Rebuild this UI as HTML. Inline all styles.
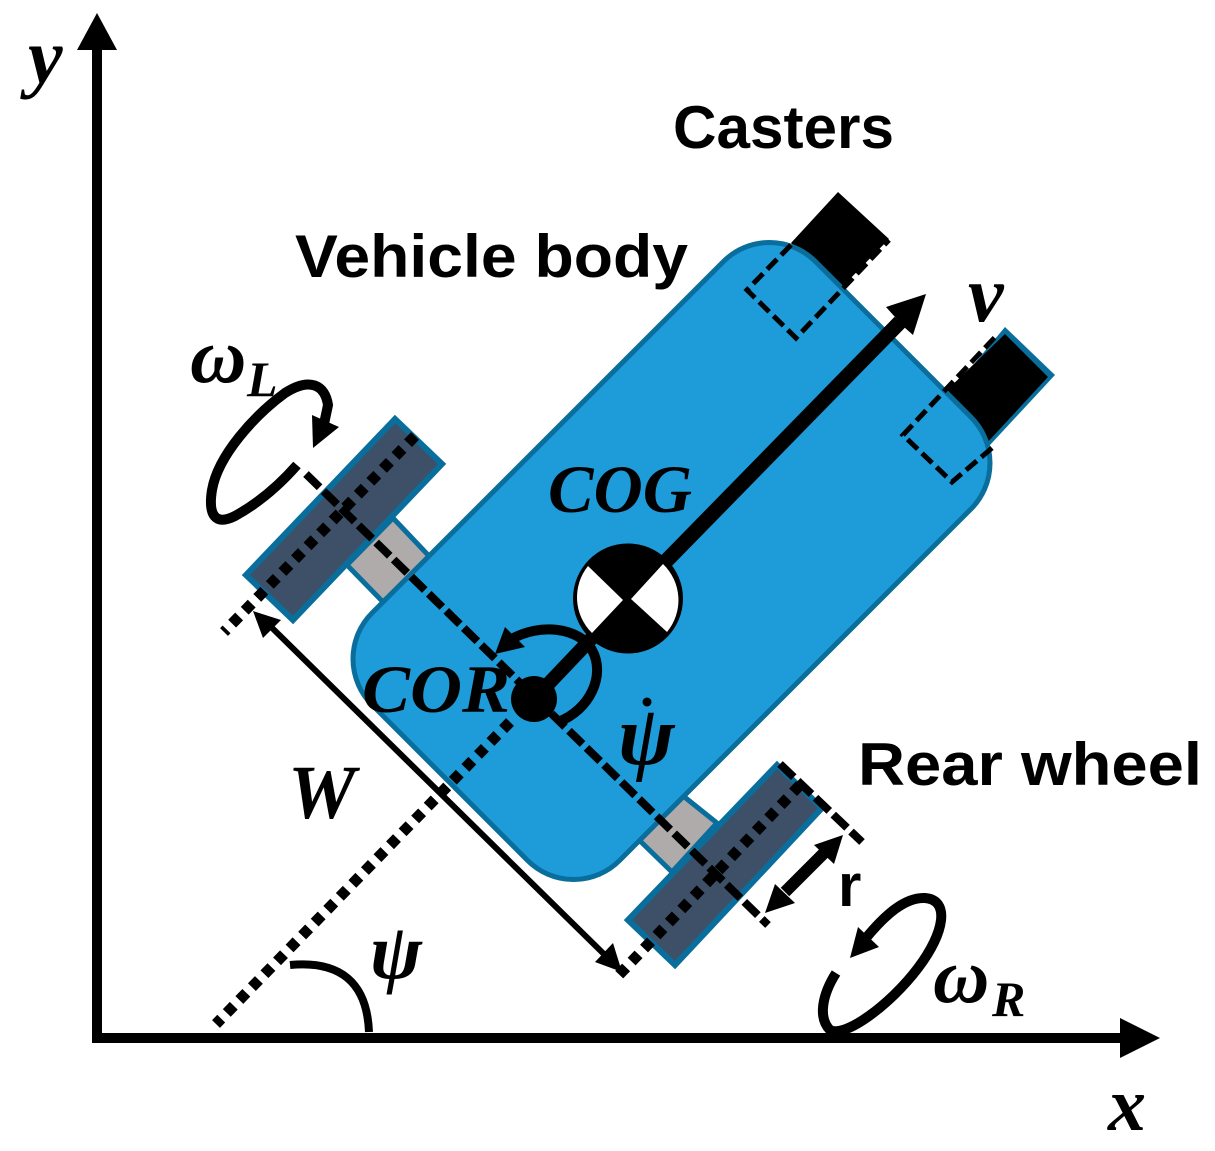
<!DOCTYPE html>
<html><head><meta charset="utf-8"><style>html,body{margin:0;padding:0;background:#fff}svg{display:block}
.b{font-family:"Liberation Sans",sans-serif;font-weight:bold;font-size:60px;fill:#000}
.m{font-family:"Liberation Serif",serif;font-style:italic;font-weight:bold;fill:#000}
</style></head><body>
<svg width="1215" height="1151" viewBox="0 0 1215 1151" xmlns="http://www.w3.org/2000/svg">
<rect width="1215" height="1151" fill="#fff"/>
<!-- casters -->
<polygon points="838,192 889,239 842,287 791,243" fill="#000"/>
<polygon points="1005,327 1055,375 990,445 948,395" fill="#0a6e9c"/>
<polygon points="1005,334 1048,377 985,445 945,392" fill="#000"/>
<!-- axles -->
<polygon points="393,518 430,557 383,602 347,565" fill="#afabab" stroke="#0a6e9c" stroke-width="5"/>
<polygon points="682,795 717,823 672,872 637,838" fill="#afabab" stroke="#0a6e9c" stroke-width="5"/>
<!-- body -->
<rect x="358" y="386" width="627" height="350" rx="65" ry="65" transform="rotate(-45 671.5 561)" fill="#1e9bd9" stroke="#0a6e9c" stroke-width="5"/>
<!-- wheels -->
<polygon points="395,419 442,464 293,620 246,575" fill="#3d5068" stroke="#0a6e9c" stroke-width="6"/>
<polygon points="777,765 822,808 675,965 628,920" fill="#3d5068" stroke="#0a6e9c" stroke-width="6"/>
<!-- caster dashed outlines -->
<g fill="none" stroke="#000" stroke-width="5" stroke-dasharray="14 6">
<polyline points="791,245 747,290 796,338 889,240"/>
<polyline points="992,448 952,482 903,435 997,335"/>
</g>
<!-- dashed axle lines -->
<g stroke="#000" stroke-width="8" fill="none" stroke-dasharray="19 5.5">
<line x1="306" y1="474" x2="768" y2="925"/>
<line x1="780" y1="764" x2="862" y2="842"/>
</g>
<!-- dotted lines -->
<g stroke="#000" stroke-width="11" fill="none" stroke-dasharray="10 8">
<line x1="415" y1="436" x2="224" y2="632"/>
<line x1="800" y1="785" x2="616" y2="978"/>
<line x1="510" y1="722" x2="216" y2="1024"/>
</g>
<!-- axes -->
<rect x="92" y="40" width="10" height="1003" fill="#000"/>
<rect x="97" y="1033" width="1030" height="10" fill="#000"/>
<polygon points="97,13 117,50 77,50" fill="#000"/>
<polygon points="1160,1038 1120,1018 1120,1058" fill="#000"/>
<!-- psi angle -->
<path d="M290 965 Q366 958 369 1032" fill="none" stroke="#000" stroke-width="8"/>
<!-- thick axis -->
<line x1="534" y1="699" x2="630" y2="598" stroke="#000" stroke-width="14"/>
<line x1="630" y1="598" x2="900" y2="322" stroke="#000" stroke-width="15"/>
<polygon points="926,294 886,307 895,317 904,327 913,335" fill="#000"/>
<!-- COG -->
<circle cx="628" cy="598.5" r="55" fill="#000"/>
<path d="M623 600 L588 566 A50 50 0 0 0 592 633 Z" fill="#fff"/>
<path d="M631 599 L663 564 A50 50 0 0 1 667 632 Z" fill="#fff"/>
<!-- COR -->
<circle cx="534" cy="699" r="23" fill="#000"/>
<!-- psi dot arc -->
<path d="M510 640 C540 622 580 628 592 650 C606 675 590 710 558 722" fill="none" stroke="#000" stroke-width="10"/>
<polygon points="495,654 505,627 525,647" fill="#000"/>
<!-- W arrow -->
<line x1="262" y1="618" x2="612" y2="962" stroke="#000" stroke-width="6"/>
<polygon points="253,611 281,620 263,638" fill="#000"/>
<polygon points="622,972 595,962 613,943" fill="#000"/>
<!-- r arrow -->
<line x1="785" y1="892" x2="825" y2="852" stroke="#000" stroke-width="12"/>
<polygon points="843,835 834,864 814,845" fill="#000"/>
<polygon points="765,913 775,884 795,903" fill="#000"/>
<!-- omega L -->
<path d="M297 465 C275 490 255 505 235 516 C215 526 208 515 212 490 C218 455 255 415 285 393 C310 377 325 385 328 405 L324 424" fill="none" stroke="#000" stroke-width="10"/>
<polygon points="312,415 339,427 313,448" fill="#000"/>
<!-- omega R -->
<path d="M836 973 C822 995 818 1018 830 1030 C845 1038 890 1005 918 968 C945 932 950 900 925 898 C905 897 885 915 866 938" fill="none" stroke="#000" stroke-width="10"/>
<polygon points="850,958 858,927 879,947" fill="#000"/>
<!-- labels -->
<text class="b" x="673" y="148" textLength="221" lengthAdjust="spacingAndGlyphs">Casters</text>
<text class="b" x="295" y="277" textLength="393" lengthAdjust="spacingAndGlyphs">Vehicle body</text>
<text class="b" x="858" y="785" textLength="344" lengthAdjust="spacingAndGlyphs">Rear wheel</text>
<text class="b" x="838" y="906">r</text>
<text class="m" x="28" y="83" font-size="78">y</text>
<text class="m" x="1108" y="1130" font-size="76">x</text>
<text class="m" x="548" y="512" font-size="68" textLength="144" lengthAdjust="spacingAndGlyphs">COG</text>
<text class="m" x="362" y="712" font-size="68" textLength="148" lengthAdjust="spacingAndGlyphs">COR</text>
<text class="m" x="288" y="818" font-size="76">W</text>
<text class="m" x="968" y="321" font-size="80">v</text>
<text class="m" x="370" y="978" font-size="78">ψ</text>
<text class="m" x="618" y="764" font-size="85">ψ</text>
<circle cx="647" cy="702" r="4.5" fill="#000"/>
<text class="m" x="190" y="382" font-size="78">ω</text>
<text class="m" x="247" y="396" font-size="50">L</text>
<text class="m" x="933" y="1002" font-size="78">ω</text>
<text class="m" x="992" y="1016" font-size="50">R</text>
</svg>
</body></html>
